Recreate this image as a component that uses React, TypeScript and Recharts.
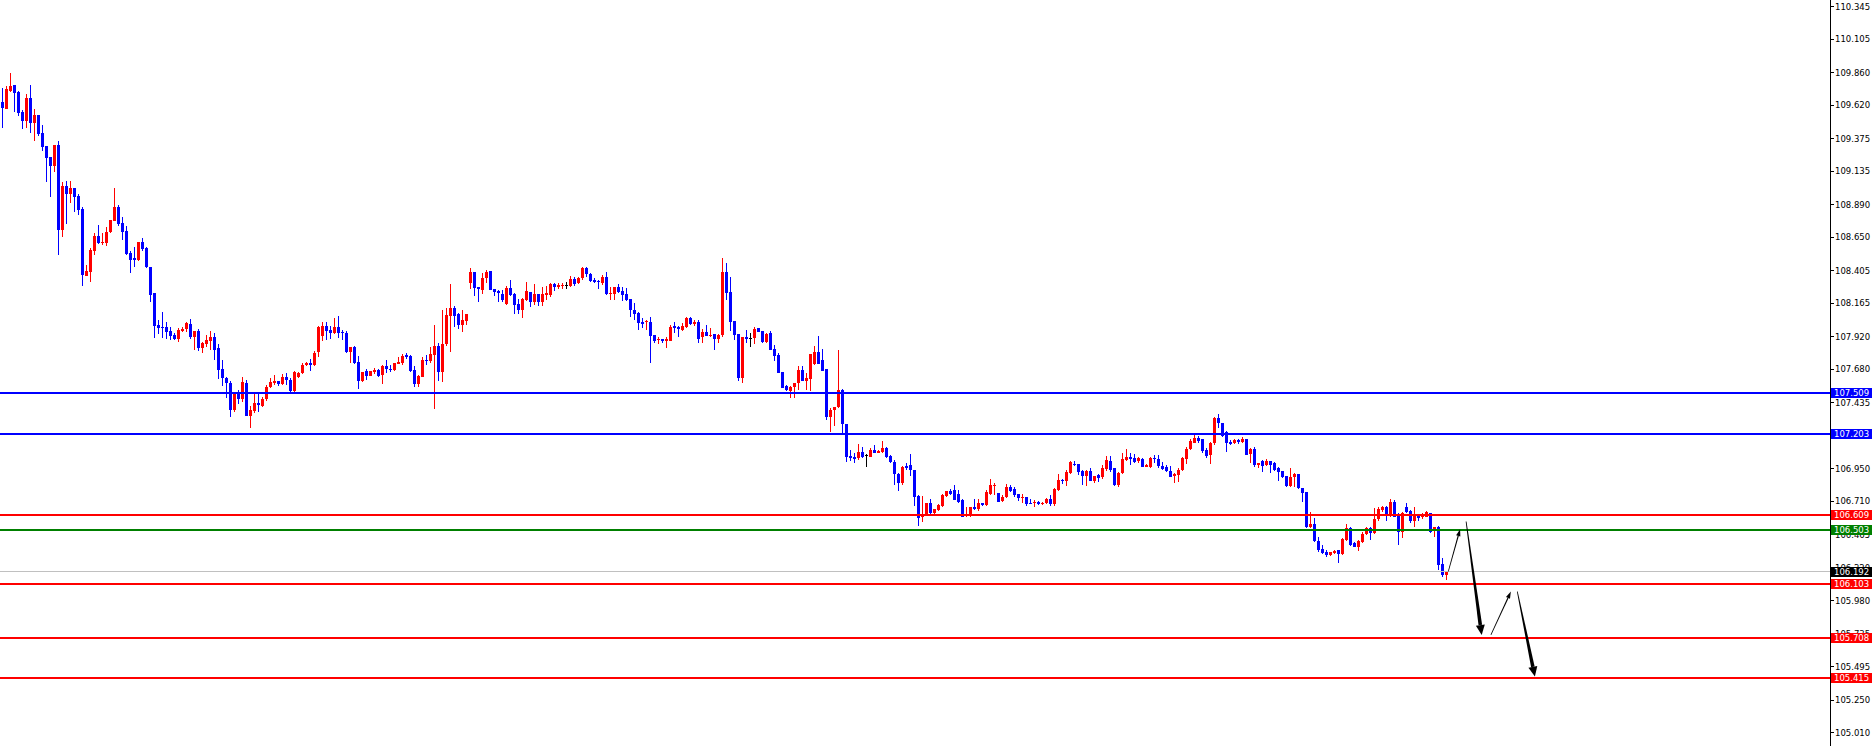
import React from "react";
import { Bar, ComposedChart, ReferenceLine, XAxis, YAxis } from "recharts";

// candles, oldest first
const OPEN = [
  109.645, 109.596, 109.726, 109.767, 109.718, 109.571, 109.508, 109.674, 109.493, 109.549,
  109.417, 109.322, 109.241, 109.175, 109.329, 108.705, 109.028, 108.969, 109.013, 108.954,
  108.859, 108.367, 108.398, 108.553, 108.66, 108.609, 108.609, 108.69, 108.773, 108.873,
  108.754, 108.695, 108.536, 108.499, 108.484, 108.616, 108.572, 108.433, 108.244, 108.006,
  107.994, 107.989, 107.96, 107.933, 107.904, 107.962, 107.98, 108.014, 107.921, 107.965,
  107.84, 107.869, 107.891, 107.916, 107.835, 107.683, 107.62, 107.583, 107.382, 107.5,
  107.46, 107.578, 107.34, 107.377, 107.436, 107.414, 107.46, 107.549, 107.583, 107.595,
  107.573, 107.627, 107.602, 107.522, 107.622, 107.651, 107.713, 107.725, 107.713, 107.808,
  107.926, 107.999, 107.97, 107.945, 107.989, 107.957, 107.945, 107.808, 107.845, 107.732,
  107.597, 107.666, 107.632, 107.661, 107.676, 107.639, 107.705, 107.686, 107.676, 107.72,
  107.73, 107.784, 107.779, 107.673, 107.573, 107.627, 107.749, 107.74, 107.788, 107.855,
  107.661, 107.867, 108.073, 108.129, 108.087, 108.007, 108.038, 108.313, 108.396, 108.286,
  108.264, 108.354, 108.403, 108.269, 108.259, 108.234, 108.158, 108.276, 108.234, 108.161,
  108.117, 108.19, 108.251, 108.178, 108.234, 108.178, 108.227, 108.227, 108.305, 108.288,
  108.296, 108.3, 108.293, 108.344, 108.313, 108.349, 108.425, 108.384, 108.34, 108.332,
  108.313, 108.359, 108.239, 108.234, 108.286, 108.259, 108.234, 108.198, 108.117, 108.095,
  108.031, 108.029, 108.031, 107.933, 107.896, 107.901, 107.889, 107.891, 107.999, 107.989,
  107.97, 107.989, 108.06, 108.014, 108.029, 107.916, 107.953, 107.926, 107.94, 107.901,
  107.933, 108.396, 108.251, 108.038, 107.94, 107.62, 107.916, 107.909, 107.909, 107.982,
  107.965, 107.884, 107.945, 107.828, 107.786, 107.661, 107.558, 107.524, 107.549, 107.583,
  107.676, 107.597, 107.61, 107.72, 107.811, 107.749, 107.681, 107.333, 107.382, 107.401,
  107.529, 107.279, 107.046, 107.039, 107.026, 107.075, 107.051, 107.039, 107.088, 107.068,
  107.075, 107.1, 107.043, 107.002, 106.911, 106.848, 106.97, 106.977, 106.941, 106.75,
  106.593, 106.61, 106.696, 106.622, 106.647, 106.676, 106.75, 106.789, 106.794, 106.764,
  106.72, 106.61, 106.603, 106.671, 106.652, 106.696, 106.684, 106.764, 106.828, 106.769,
  106.715, 106.74, 106.813, 106.799, 106.764, 106.74, 106.745, 106.701, 106.696, 106.708,
  106.691, 106.696, 106.728, 106.691, 106.794, 106.867, 106.862, 106.921, 106.985, 106.985,
  106.933, 106.897, 106.936, 106.862, 106.904, 106.887, 106.946, 107.009, 106.953, 106.831,
  106.916, 107.014, 107.034, 107.026, 107.009, 107.019, 106.965, 106.965, 107.026, 107.019,
  106.973, 106.965, 106.936, 106.897, 106.904, 106.941, 107.019, 107.095, 107.142, 107.176,
  107.166, 107.088, 107.051, 107.137, 107.32, 107.284, 107.222, 107.149, 107.137, 107.161,
  107.144, 107.166, 107.058, 107.098, 106.977, 107.009, 106.977, 107.007, 106.995, 106.953,
  106.936, 106.897, 106.823, 106.887, 106.911, 106.811, 106.782, 106.524, 106.544, 106.422,
  106.358, 106.341, 106.316, 106.328, 106.353, 106.324, 106.426, 106.515, 106.402, 106.377,
  106.414, 106.47, 106.512, 106.48, 106.578, 106.647, 106.671, 106.61, 106.708, 106.61,
  106.488, 106.666, 106.64, 106.568, 106.603, 106.598, 106.598, 106.622, 106.5, 106.52,
  106.25, 106.169,
];

const HIGH = [
  109.748, 109.762, 109.856, 109.772, 109.726, 109.586, 109.704, 109.77, 109.593, 109.549,
  109.476, 109.322, 109.241, 109.329, 109.358, 109.055, 109.065, 109.062, 109.013, 108.969,
  108.876, 108.447, 108.575, 108.685, 108.741, 108.68, 108.724, 108.778, 109.013, 108.888,
  108.8, 108.734, 108.55, 108.58, 108.616, 108.646, 108.58, 108.433, 108.244, 108.043,
  108.104, 108.031, 107.994, 107.945, 107.987, 107.989, 108.028, 108.053, 107.962, 107.975,
  107.884, 107.933, 107.96, 107.945, 107.867, 107.749, 107.627, 107.595, 107.517, 107.529,
  107.627, 107.602, 107.414, 107.5, 107.5, 107.48, 107.566, 107.62, 107.639, 107.595,
  107.646, 107.654, 107.62, 107.671, 107.664, 107.73, 107.737, 107.754, 107.815, 107.999,
  108.026, 108.028, 107.999, 108.058, 108.073, 107.97, 107.962, 107.845, 107.85, 107.779,
  107.661, 107.681, 107.671, 107.688, 107.686, 107.71, 107.747, 107.715, 107.73, 107.769,
  107.793, 107.803, 107.786, 107.705, 107.637, 107.769, 107.784, 107.842, 108.006, 107.872,
  108.117, 108.131, 108.308, 108.146, 108.092, 108.117, 108.087, 108.425, 108.396, 108.286,
  108.389, 108.411, 108.403, 108.269, 108.264, 108.264, 108.293, 108.337, 108.239, 108.195,
  108.202, 108.322, 108.251, 108.308, 108.234, 108.288, 108.293, 108.313, 108.318, 108.313,
  108.313, 108.325, 108.366, 108.362, 108.362, 108.435, 108.435, 108.389, 108.352, 108.337,
  108.376, 108.396, 108.288, 108.288, 108.308, 108.288, 108.278, 108.198, 108.166, 108.1,
  108.055, 108.043, 108.063, 107.933, 107.916, 107.901, 107.916, 108.007, 108.031, 107.999,
  108.019, 108.063, 108.068, 108.043, 108.043, 107.975, 108.007, 107.982, 107.94, 107.94,
  108.499, 108.464, 108.362, 108.038, 107.94, 107.916, 107.97, 107.945, 107.994, 107.982,
  107.965, 107.945, 107.965, 107.86, 107.798, 107.661, 107.566, 107.558, 107.583, 107.705,
  107.705, 107.651, 107.793, 107.852, 107.926, 107.828, 107.681, 107.394, 107.406, 107.823,
  107.534, 107.281, 107.088, 107.063, 107.132, 107.112, 107.056, 107.1, 107.124, 107.088,
  107.156, 107.112, 107.051, 107.014, 106.916, 106.97, 106.995, 107.058, 106.941, 106.757,
  106.75, 106.701, 106.73, 106.657, 106.688, 106.764, 106.789, 106.799, 106.831, 106.794,
  106.725, 106.666, 106.671, 106.725, 106.73, 106.701, 106.794, 106.872, 106.843, 106.769,
  106.757, 106.838, 106.831, 106.813, 106.764, 106.764, 106.745, 106.73, 106.72, 106.715,
  106.706, 106.733, 106.757, 106.809, 106.911, 106.877, 106.941, 107.009, 107.009, 106.985,
  106.941, 106.941, 106.953, 106.897, 106.911, 106.977, 107.044, 107.044, 106.953, 106.928,
  107.068, 107.093, 107.063, 107.056, 107.034, 107.026, 106.985, 107.034, 107.051, 107.051,
  107.002, 106.977, 106.97, 106.916, 106.953, 107.034, 107.112, 107.166, 107.21, 107.19,
  107.166, 107.1, 107.149, 107.333, 107.352, 107.288, 107.23, 107.161, 107.171, 107.171,
  107.181, 107.166, 107.1, 107.112, 106.99, 107.014, 107.019, 107.009, 107.002, 106.965,
  106.936, 106.897, 106.953, 106.921, 106.911, 106.811, 106.782, 106.635, 106.586, 106.451,
  106.39, 106.353, 106.341, 106.353, 106.353, 106.439, 106.544, 106.524, 106.414, 106.426,
  106.488, 106.524, 106.524, 106.659, 106.671, 106.676, 106.676, 106.725, 106.72, 106.622,
  106.635, 106.696, 106.647, 106.671, 106.61, 106.627, 106.642, 106.622, 106.52, 106.529,
  106.292, 106.201,
];

const LOW = [
  109.454, 109.596, 109.721, 109.574, 109.545, 109.444, 109.456, 109.415, 109.361, 109.395,
  109.287, 109.06, 108.949, 109.133, 108.521, 108.656, 108.749, 108.905, 108.839, 108.815,
  108.293, 108.367, 108.325, 108.521, 108.602, 108.592, 108.587, 108.68, 108.773, 108.734,
  108.631, 108.518, 108.391, 108.435, 108.477, 108.553, 108.423, 108.178, 107.909, 107.94,
  107.909, 107.901, 107.896, 107.896, 107.884, 107.955, 107.957, 107.901, 107.823, 107.815,
  107.803, 107.847, 107.823, 107.749, 107.607, 107.558, 107.473, 107.333, 107.37, 107.426,
  107.443, 107.34, 107.252, 107.357, 107.37, 107.406, 107.451, 107.544, 107.566, 107.561,
  107.568, 107.568, 107.517, 107.497, 107.615, 107.646, 107.705, 107.671, 107.708, 107.774,
  107.891, 107.896, 107.901, 107.94, 107.909, 107.896, 107.803, 107.73, 107.72, 107.536,
  107.59, 107.602, 107.632, 107.646, 107.627, 107.575, 107.651, 107.664, 107.671, 107.717,
  107.713, 107.754, 107.659, 107.553, 107.553, 107.622, 107.713, 107.73, 107.389, 107.595,
  107.59, 107.85, 107.811, 107.989, 107.975, 107.958, 108.007, 108.273, 108.222, 108.178,
  108.234, 108.313, 108.264, 108.22, 108.178, 108.178, 108.153, 108.22, 108.087, 108.087,
  108.058, 108.183, 108.141, 108.153, 108.149, 108.149, 108.19, 108.215, 108.259, 108.273,
  108.273, 108.273, 108.288, 108.293, 108.308, 108.337, 108.362, 108.325, 108.313, 108.273,
  108.3, 108.227, 108.19, 108.19, 108.239, 108.183, 108.185, 108.068, 108.043, 107.97,
  107.982, 107.97, 107.73, 107.877, 107.867, 107.872, 107.84, 107.891, 107.95, 107.916,
  107.965, 107.982, 108.007, 107.999, 107.877, 107.872, 107.926, 107.916, 107.823, 107.877,
  107.916, 108.19, 107.962, 107.896, 107.597, 107.583, 107.877, 107.847, 107.867, 107.957,
  107.877, 107.872, 107.823, 107.744, 107.656, 107.546, 107.524, 107.468, 107.468, 107.529,
  107.597, 107.529, 107.524, 107.715, 107.72, 107.666, 107.308, 107.223, 107.264, 107.394,
  107.215, 107.002, 107.009, 106.995, 107.014, 107.026, 106.965, 107.034, 107.063, 107.063,
  107.068, 107.026, 106.995, 106.83, 106.789, 106.83, 106.941, 106.897, 106.676, 106.532,
  106.561, 106.603, 106.61, 106.61, 106.642, 106.671, 106.74, 106.755, 106.72, 106.701,
  106.593, 106.598, 106.593, 106.647, 106.642, 106.676, 106.676, 106.76, 106.757, 106.708,
  106.708, 106.733, 106.779, 106.745, 106.715, 106.701, 106.676, 106.691, 106.671, 106.684,
  106.684, 106.691, 106.676, 106.676, 106.789, 106.838, 106.823, 106.911, 106.97, 106.904,
  106.831, 106.823, 106.858, 106.848, 106.855, 106.872, 106.936, 106.928, 106.823, 106.813,
  106.911, 107.009, 106.977, 106.995, 106.99, 106.96, 106.96, 106.953, 106.995, 106.953,
  106.941, 106.928, 106.887, 106.848, 106.855, 106.936, 106.985, 107.088, 107.137, 107.137,
  107.068, 107.026, 106.985, 107.124, 107.247, 107.181, 107.075, 107.124, 107.132, 107.132,
  107.137, 107.051, 106.995, 106.965, 106.953, 106.928, 106.97, 106.916, 106.936, 106.862,
  106.88, 106.813, 106.818, 106.818, 106.799, 106.708, 106.512, 106.512, 106.414, 106.341,
  106.324, 106.304, 106.309, 106.324, 106.255, 106.316, 106.422, 106.382, 106.373, 106.348,
  106.407, 106.463, 106.426, 106.47, 106.568, 106.635, 106.568, 106.593, 106.593, 106.39,
  106.439, 106.622, 106.554, 106.524, 106.568, 106.578, 106.593, 106.475, 106.451, 106.206,
  106.157, 106.133,
];

const CLOSE = [
  109.603, 109.738, 109.762, 109.709, 109.567, 109.508, 109.674, 109.488, 109.549, 109.41,
  109.317, 109.236, 109.175, 109.329, 108.705, 109.028, 108.969, 109.013, 108.949, 108.851,
  108.374, 108.403, 108.558, 108.66, 108.609, 108.616, 108.69, 108.778, 108.873, 108.749,
  108.69, 108.528, 108.484, 108.484, 108.616, 108.565, 108.43, 108.227, 107.999, 107.987,
  107.984, 107.957, 107.928, 107.904, 107.97, 107.977, 108.019, 107.921, 107.962, 107.837,
  107.877, 107.896, 107.916, 107.823, 107.676, 107.615, 107.583, 107.382, 107.5, 107.46,
  107.585, 107.34, 107.382, 107.431, 107.416, 107.463, 107.549, 107.585, 107.595, 107.573,
  107.624, 107.602, 107.524, 107.664, 107.651, 107.713, 107.73, 107.713, 107.803, 107.989,
  107.999, 107.962, 107.945, 107.989, 107.95, 107.945, 107.808, 107.845, 107.725, 107.597,
  107.661, 107.632, 107.671, 107.676, 107.634, 107.705, 107.681, 107.681, 107.725, 107.735,
  107.779, 107.774, 107.668, 107.573, 107.632, 107.749, 107.74, 107.793, 107.855, 107.664,
  107.867, 108.078, 108.129, 108.073, 108.007, 108.043, 108.087, 108.393, 108.281, 108.271,
  108.354, 108.396, 108.264, 108.251, 108.239, 108.19, 108.276, 108.227, 108.153, 108.117,
  108.198, 108.256, 108.178, 108.234, 108.178, 108.234, 108.239, 108.305, 108.288, 108.298,
  108.303, 108.3, 108.344, 108.308, 108.352, 108.425, 108.379, 108.332, 108.325, 108.325,
  108.359, 108.234, 108.244, 108.286, 108.251, 108.227, 108.19, 108.117, 108.087, 108.024,
  108.014, 108.033, 107.928, 107.891, 107.906, 107.889, 107.901, 107.989, 107.984, 107.975,
  108.002, 108.055, 108.014, 108.029, 107.906, 107.953, 107.928, 107.933, 107.904, 107.933,
  108.398, 108.244, 108.031, 107.933, 107.62, 107.916, 107.901, 107.909, 107.975, 107.957,
  107.884, 107.94, 107.823, 107.779, 107.656, 107.546, 107.529, 107.553, 107.583, 107.676,
  107.597, 107.615, 107.793, 107.811, 107.72, 107.671, 107.333, 107.382, 107.406, 107.529,
  107.277, 107.039, 107.026, 107.019, 107.075, 107.039, 107.051, 107.088, 107.068, 107.083,
  107.1, 107.034, 107.002, 106.911, 106.848, 106.965, 106.953, 106.941, 106.745, 106.586,
  106.61, 106.701, 106.622, 106.657, 106.684, 106.76, 106.789, 106.764, 106.72, 106.708,
  106.598, 106.617, 106.666, 106.652, 106.696, 106.684, 106.777, 106.831, 106.831, 106.708,
  106.745, 106.813, 106.789, 106.76, 106.733, 106.745, 106.691, 106.696, 106.708, 106.691,
  106.701, 106.728, 106.691, 106.799, 106.867, 106.862, 106.928, 107.002, 106.977, 106.928,
  106.897, 106.936, 106.862, 106.897, 106.88, 106.953, 107.014, 106.941, 106.831, 106.921,
  107.019, 107.034, 107.024, 107.002, 107.026, 106.965, 106.977, 107.026, 107.019, 106.97,
  106.946, 106.933, 106.892, 106.911, 106.941, 107.026, 107.095, 107.156, 107.176, 107.156,
  107.083, 107.046, 107.142, 107.325, 107.284, 107.19, 107.142, 107.132, 107.161, 107.144,
  107.166, 107.051, 107.093, 106.977, 106.99, 106.97, 107.009, 106.977, 106.941, 106.928,
  106.887, 106.823, 106.887, 106.911, 106.806, 106.774, 106.524, 106.544, 106.422, 106.353,
  106.328, 106.316, 106.341, 106.348, 106.324, 106.431, 106.517, 106.39, 106.377, 106.422,
  106.47, 106.512, 106.48, 106.578, 106.652, 106.666, 106.603, 106.708, 106.598, 106.488,
  106.622, 106.635, 106.568, 106.61, 106.586, 106.61, 106.635, 106.488, 106.52, 106.243,
  106.169, 106.194,
];

const PRICE_TICKS = [
  110.345, 110.105, 109.86, 109.62, 109.375, 109.135, 108.89, 108.65, 108.405, 108.165,
  107.92, 107.68, 107.435, 107.19, 106.95, 106.71, 106.465, 106.22, 105.98, 105.735,
  105.495, 105.25, 105.01,
];

// drawn horizontal levels
const RESISTANCE = [107.509, 107.203];
const TARGETS = [106.609, 106.103, 105.708, 105.415];
const PIVOT = 106.503;
const LAST_PRICE = 106.192;

// projected path as [bar index, price]
const PATH_FROM = [[361.45, 106.195], [365.9, 106.562], [372.1, 105.729], [378.7, 106.048]];
const PATH_TO = [[364.4, 106.506], [369.8, 105.729], [377.1, 106.048], [383.1, 105.423]];
const PATH_HEAVY = [false, true, false, true];

const W = 1875;
const H = 746;
const AXIS_W = 45;
const AXIS_X = W - AXIS_W;
const Y_DOMAIN: [number, number] = [104.913, 110.394];
const X_DOMAIN: [number, number] = [-0.625, 456.875];
const FONT = "'DejaVu Sans', Tahoma, sans-serif";

const BULL = "#ff0000";
const BEAR = "#0000ff";
const DOJI = "#000000";
const BLUE = "#0000ff";
const RED = "#ff0000";
const GREEN = "#008000";

const data = OPEN.map((o, i) => ({
  i,
  o,
  h: HIGH[i],
  l: LOW[i],
  c: CLOSE[i],
  range: [LOW[i], HIGH[i]],
}));

const badges: Record<string, { bg: string; fg: string }> = {};
RESISTANCE.forEach((p) => (badges[p.toFixed(3)] = { bg: BLUE, fg: "#fff" }));
TARGETS.forEach((p) => (badges[p.toFixed(3)] = { bg: RED, fg: "#fff" }));
badges[PIVOT.toFixed(3)] = { bg: GREEN, fg: "#fff" };
badges[LAST_PRICE.toFixed(3)] = { bg: "#000", fg: "#fff" };
const BADGE_PRICES = [...RESISTANCE, PIVOT, ...TARGETS, LAST_PRICE];

function Candle(props: any) {
  let { x, y, width, height } = props;
  const { payload } = props;
  if (height == null || !payload) return null;
  if (height < 0) {
    y += height;
    height = -height;
  }
  const { o, h, l, c } = payload;
  const k = h - l > 0 ? height / (h - l) : 0;
  const py = (p: number) => y + (h - p) * k;
  const cx = Math.floor(x + width / 2);
  const color = c > o ? BULL : c < o ? BEAR : DOJI;
  const top = Math.round(py(Math.max(o, c)));
  const bot = Math.round(py(Math.min(o, c)));
  const wt = Math.round(y);
  const wb = Math.round(y + height);
  return (
    <g shapeRendering="crispEdges">
      <rect x={cx} y={wt} width={1} height={Math.max(1, wb - wt)} fill={color} />
      <rect x={cx - 1} y={top} width={3} height={Math.max(1, bot - top)} fill={color} />
    </g>
  );
}

function PriceTick(props: any) {
  const { y, payload } = props;
  const v = Number(payload.value);
  const label = v.toFixed(3);
  const badge = badges[label];
  if (badge) {
    return (
      <g>
        <rect x={AXIS_X + 1} y={y - 5} width={41} height={10} fill={badge.bg} shapeRendering="crispEdges" />
        <text x={AXIS_X + 4} y={y} dy="0.35em" fill={badge.fg} fontSize={8.5} fontFamily={FONT}>
          {label}
        </text>
      </g>
    );
  }
  return (
    <g>
      <line x1={AXIS_X} x2={AXIS_X + 4} y1={y} y2={y} stroke="#000" shapeRendering="crispEdges" />
      <text x={AXIS_X + 5} y={y} dy="0.35em" fill="#000" fontSize={8.5} fontFamily={FONT}>
        {label}
      </text>
    </g>
  );
}

const levelShape = (color: string, w: number) => (p: any) => (
  <line x1={p.x1} x2={p.x2} y1={p.y1} y2={p.y2} stroke={color} strokeWidth={w} shapeRendering="crispEdges" />
);

const arrowShape = (heavy: boolean) => (p: any) => {
  const { x1, y1, x2, y2 } = p;
  const dx = x2 - x1;
  const dy = y2 - y1;
  const len = Math.hypot(dx, dy) || 1;
  const ux = dx / len;
  const uy = dy / len;
  const nx = -uy;
  const ny = ux;
  const headLen = heavy ? 10 : 7;
  const headHalf = heavy ? 4.5 : 2.2;
  const w0 = heavy ? 0.4 : 0.4;
  const w1 = heavy ? 1.8 : 0.6;
  const bx = x2 - ux * headLen;
  const by = y2 - uy * headLen;
  const shaft = `${x1 + nx * w0},${y1 + ny * w0} ${bx + nx * w1},${by + ny * w1} ${bx - nx * w1},${by - ny * w1} ${x1 - nx * w0},${y1 - ny * w0}`;
  const head = `${x2},${y2} ${bx + nx * headHalf},${by + ny * headHalf} ${bx - nx * headHalf},${by - ny * headHalf}`;
  return (
    <g>
      <polygon points={shaft} fill="#000" />
      <polygon points={head} fill="#000" />
    </g>
  );
};

export default function App() {
  return (
    <div style={{ position: "absolute", left: 0, top: 0, width: W, height: H, background: "#fff" }}>
      <ComposedChart width={W} height={H} data={data} margin={{ top: 0, right: 0, bottom: 0, left: 0 }}>
        <XAxis dataKey="i" type="number" domain={X_DOMAIN} allowDataOverflow hide />
        <YAxis
          orientation="right"
          type="number"
          width={AXIS_W}
          domain={Y_DOMAIN}
          allowDataOverflow
          ticks={[...PRICE_TICKS, ...BADGE_PRICES]}
          interval={0}
          tickLine={false}
          axisLine={{ stroke: "#000", shapeRendering: "crispEdges" }}
          tick={(p: any) => <PriceTick {...p} />}
        />
        <Bar
          dataKey="range"
          barSize={3}
          isAnimationActive={false}
          shape={(p: any) => <Candle {...p} />}
        />
        <ReferenceLine y={LAST_PRICE} ifOverflow="visible" shape={levelShape("#c0c0c0", 1)} />
        {RESISTANCE.map((p) => (
          <ReferenceLine key={`r${p}`} y={p} ifOverflow="visible" shape={levelShape(BLUE, 2)} />
        ))}
        {TARGETS.map((p) => (
          <ReferenceLine key={`t${p}`} y={p} ifOverflow="visible" shape={levelShape(RED, 2)} />
        ))}
        <ReferenceLine y={PIVOT} ifOverflow="visible" shape={levelShape(GREEN, 2)} />
        {PATH_FROM.map((from, k) => (
          <ReferenceLine
            key={`a${k}`}
            ifOverflow="visible"
            segment={[
              { x: from[0], y: from[1] },
              { x: PATH_TO[k][0], y: PATH_TO[k][1] },
            ]}
            shape={arrowShape(PATH_HEAVY[k])}
          />
        ))}
      </ComposedChart>
    </div>
  );
}
